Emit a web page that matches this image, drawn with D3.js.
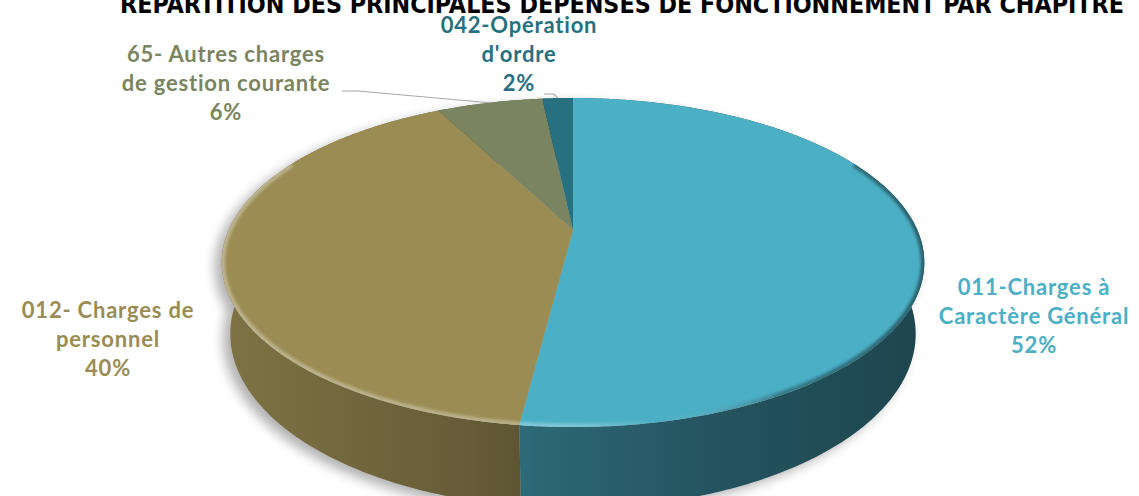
<!DOCTYPE html>
<html>
<head>
<meta charset="utf-8">
<script src="https://cdn.jsdelivr.net/npm/d3@7"></script>
<style>
  html, body { margin: 0; padding: 0; background: #fff; }
  svg { display: block; }
</style>
</head>
<body>
<div id="chart"></div>
<script>
// --- data ---
const categories = ["011-Charges à Caractère Général", "012- Charges de personnel",
                    "65- Autres charges de gestion courante", "042-Opération d'ordre"];
const values = [52.0, 40.4, 5.9, 1.7];
const percentLabels = ["52%", "40%", "6%", "2%"];
const labelLines = [
  ["011-Charges à", "Caractère Général"],
  ["012- Charges de", "personnel"],
  ["65- Autres charges", "de gestion courante"],
  ["042-Opération", "d'ordre"]
];
const colors = ["#4BAFC5", "#9A8C53", "#7A8460", "#27707F"];
const title = "RÉPARTITION DES PRINCIPALES DÉPENSES DE FONCTIONNEMENT PAR CHAPITRE";

// --- layout ---
const width = 1139, height = 496;
const labelPos = [
  { x: 1034, y: 295 },
  { x: 108, y: 318 },
  { x: 226, y: 62 },
  { x: 519, y: 33 }
];
const lineH = 29;

// perspective projection of the pie disk
const cx = 573, cy = 230, F = 1546, D = 4.49;
const sinA = 0.459, cosA = Math.sqrt(1 - sinA * sinA);
const H = 0.235;

function proj(theta, h, r = 1) {
  const u = r * Math.sin(theta), v = r * Math.cos(theta);
  const yc = h * cosA + v * sinA;
  const zc = D + v * cosA - h * sinA;
  return [cx + F * u / zc, cy - F * yc / zc];
}

function arcPoints(a0, a1, h) {
  const n = Math.max(4, Math.ceil(Math.abs(a1 - a0) / 0.01));
  const pts = [];
  for (let i = 0; i <= n; i++) pts.push(proj(a0 + (a1 - a0) * i / n, h));
  return pts;
}

const line = d3.line();

const svg = d3.select("#chart").append("svg")
  .attr("width", width)
  .attr("height", height)
  .style("font-family", "Lato, 'Open Sans', sans-serif");

const defs = svg.append("defs");

defs.append("filter").attr("id", "shadowBlur")
  .attr("x", "-20%").attr("y", "-20%").attr("width", "140%").attr("height", "140%")
  .append("feGaussianBlur").attr("stdDeviation", 6);

defs.append("filter").attr("id", "rimBlur")
  .append("feGaussianBlur").attr("stdDeviation", 1.6);

const pie = d3.pie().sort(null).value(d => d)(values);

// side shading: lit from the left, darker to the right
const shadeStops = [[0, 0.82], [0.35, 0.66], [0.45, 0.59], [0.7, 0.48], [1, 0.4]];
const xLeft = proj(-Math.PI / 2, 0)[0] - 5, xRight = proj(Math.PI / 2, 0)[0] + 5;

pie.forEach((d, i) => {
  const g = defs.append("linearGradient").attr("id", "side" + i)
    .attr("gradientUnits", "userSpaceOnUse")
    .attr("x1", xLeft).attr("x2", xRight).attr("y1", 0).attr("y2", 0);
  const c = d3.rgb(colors[i]);
  shadeStops.forEach(([o, f]) => {
    g.append("stop").attr("offset", o)
      .attr("stop-color", d3.rgb(c.r * f, c.g * f, c.b * f).formatHex());
  });
});

const rimGrad = defs.append("linearGradient").attr("id", "rim")
  .attr("gradientUnits", "userSpaceOnUse")
  .attr("x1", xLeft).attr("x2", xRight).attr("y1", 0).attr("y2", 0);
rimGrad.append("stop").attr("offset", 0).attr("stop-color", "#fff").attr("stop-opacity", 0.35);
rimGrad.append("stop").attr("offset", 0.5).attr("stop-color", "#fff").attr("stop-opacity", 0.3);
rimGrad.append("stop").attr("offset", 0.62).attr("stop-color", "#fff").attr("stop-opacity", 0);
rimGrad.append("stop").attr("offset", 0.8).attr("stop-color", "#000").attr("stop-opacity", 0.3);
rimGrad.append("stop").attr("offset", 1).attr("stop-color", "#000").attr("stop-opacity", 0.45);

const topOutline = arcPoints(0, 2 * Math.PI, 0);
defs.append("clipPath").attr("id", "topClip")
  .append("path").attr("d", line(topOutline) + "Z");

// --- shadow ---
const shadow = svg.append("g")
  .attr("filter", "url(#shadowBlur)")
  .attr("opacity", 0.3)
  .attr("transform", "translate(-7,5)");
shadow.append("path")
  .attr("d", line(arcPoints(0, 2 * Math.PI, 0).concat(arcPoints(2 * Math.PI, 0, -H))) + "Z")
  .attr("fill", "#000");
shadow.append("path")
  .attr("d", line(arcPoints(0, 2 * Math.PI, -H)) + "Z")
  .attr("fill", "#000");

// --- side walls ---
svg.append("g").selectAll("path")
  .data(pie)
  .join("path")
  .attr("d", d => line(arcPoints(d.startAngle, d.endAngle, 0)
    .concat(arcPoints(d.endAngle, d.startAngle, -H))) + "Z")
  .attr("fill", (d, i) => `url(#side${i})`);

// --- top faces ---
svg.append("g").selectAll("path")
  .data(pie)
  .join("path")
  .attr("d", d => line([proj(0, 0, 0)].concat(arcPoints(d.startAngle, d.endAngle, 0))) + "Z")
  .attr("fill", (d, i) => colors[i]);

// bevel rim on the top edge
svg.append("g").attr("clip-path", "url(#topClip)")
  .append("path")
  .attr("d", line(arcPoints(Math.PI * 0.35, Math.PI * 1.65, 0)))
  .attr("fill", "none")
  .attr("stroke", "url(#rim)")
  .attr("stroke-width", 7)
  .attr("filter", "url(#rimBlur)");

// --- leader lines (small slices) ---
const leaders = [
  { i: 2, pts: p => [[342, 91], [358, 91], p] },
  { i: 3, pts: p => [[544, 94], [554, 94], p] }
];
svg.append("g").selectAll("path")
  .data(leaders)
  .join("path")
  .attr("d", d => {
    const s = pie[d.i];
    return line(d.pts(proj((s.startAngle + s.endAngle) / 2, 0)));
  })
  .attr("fill", "none")
  .attr("stroke", "#A6A6A6")
  .attr("stroke-width", 1.2);

// --- labels ---
const labels = svg.append("g").selectAll("text")
  .data(pie)
  .join("text")
  .attr("text-anchor", "middle")
  .attr("font-size", 22)
  .attr("font-weight", 700)
  .attr("letter-spacing", 0.8)
  .attr("fill", (d, i) => colors[i]);

labels.each(function (d, i) {
  const t = d3.select(this);
  labelLines[i].concat([percentLabels[i]]).forEach((s, k) => {
    t.append("tspan")
      .attr("x", labelPos[i].x)
      .attr("y", labelPos[i].y + k * lineH)
      .text(s);
  });
});

// --- title (partly cut off at the top) ---
svg.append("text")
  .attr("x", 622)
  .attr("y", 13)
  .attr("text-anchor", "middle")
  .attr("font-family", "'Liberation Sans Narrow', 'DejaVu Sans Condensed', sans-serif")
  .attr("font-weight", 700)
  .attr("font-size", 25)
  .attr("textLength", 1004)
  .attr("lengthAdjust", "spacingAndGlyphs")
  .attr("fill", "#000")
  .text(title);
</script>
</body>
</html>
